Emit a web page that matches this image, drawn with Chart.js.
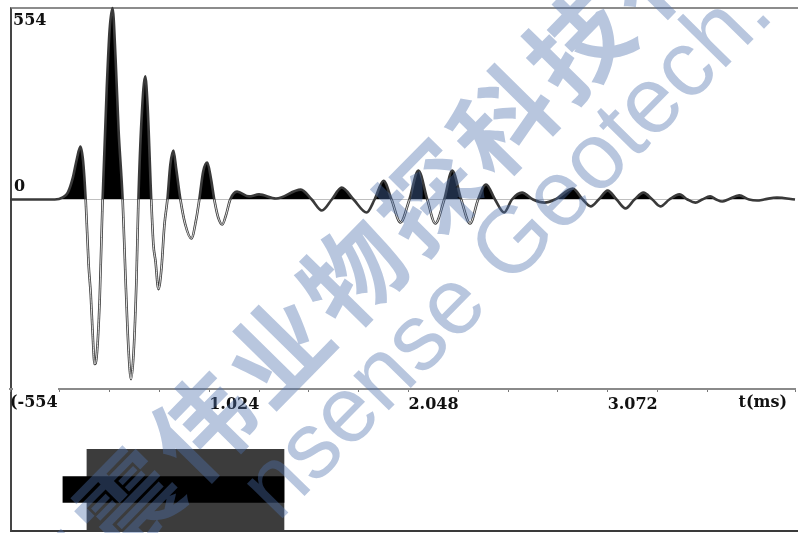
<!DOCTYPE html>
<html>
<head>
<meta charset="utf-8">
<script src="https://cdn.jsdelivr.net/npm/chart.js@4.4.1/dist/chart.umd.min.js"></script>
<style>
html, body { margin: 0; padding: 0; background: #fff; }
#stage { position: relative; width: 798px; height: 533px; overflow: hidden; background: #fff; }
#frame { position: absolute; left: 10px; top: 7px; width: 800px; height: 521px;
         border-left: 2px solid #454545; border-top: 2px solid #8c8c8c; border-bottom: 2px solid #3a3a3a; }
#trace { position: absolute; left: 0; top: 0; }
#gate { position: absolute; left: 0; top: 449px; }
#mark { position: absolute; left: 0; top: 0; pointer-events: none; }
</style>
</head>
<body>
<div id="stage">
    <div id="frame"></div>
    <canvas id="trace" width="798" height="421"></canvas>
    <canvas id="gate" width="798" height="81"></canvas>
    <canvas id="mark" width="798" height="533"></canvas>
</div>
<script>
// waveform samples (time in ms, amplitude)
const timeMs = [
    0, 0.230, 0.271, 0.297, 0.323, 0.343, 0.362, 0.376, 0.389, 0.404,
    0.415, 0.425, 0.435, 0.445, 0.461, 0.476, 0.497, 0.512, 0.527, 0.543,
    0.558, 0.579, 0.594, 0.609, 0.622, 0.635, 0.650, 0.660, 0.676, 0.695,
    0.707, 0.726, 0.737, 0.748, 0.763, 0.778, 0.794, 0.809, 0.824, 0.840,
    0.855, 0.876, 0.901, 0.932, 0.957, 0.973, 0.993, 1.014, 1.034, 1.050,
    1.070, 1.091, 1.111, 1.132, 1.167, 1.229, 1.280, 1.367, 1.495, 1.551,
    1.603, 1.654, 1.705, 1.766, 1.833, 1.874, 1.920, 1.961, 2.007, 2.053,
    2.099, 2.145, 2.186, 2.232, 2.273, 2.319, 2.365, 2.406, 2.447, 2.493,
    2.540, 2.580, 2.632, 2.688, 2.749, 2.801, 2.893, 2.944, 2.985, 3.026,
    3.072, 3.118, 3.164, 3.210, 3.256, 3.302, 3.343, 3.389, 3.441, 3.482,
    3.523, 3.558, 3.599, 3.630, 3.661, 3.692, 3.748, 3.799, 3.840, 3.876,
    3.942, 4.035,
];
const amplitude = [
    0, 0, 6, 20, 64, 117, 155, 111, 0, -190,
    -277, -394, -481, -461, -292, 0, 321, 496, 560, 408,
    204, 0, -233, -437, -525, -452, -233, 0, 233, 360,
    277, 0, -131, -181, -262, -204, -73, 0, 102, 143,
    87, 0, -73, -114, -58, 0, 82, 108, 58, 0,
    -52, -73, -44, 0, 23, 9, 15, 3, 29, 0,
    -32, 0, 35, 0, -38, 0, 55, 0, -67, 0,
    85, 0, -70, 0, 85, 0, -70, 0, 44, 0,
    -38, 0, 20, 0, -9, 0, 32, 0, -20, 0,
    26, 0, -26, 0, 20, 0, -20, 0, 15, 0,
    -9, 0, 9, 0, -6, 0, 12, 0, -3, 0,
    6, 0,
];

const timeRange = [0, 4.035];
const ampRange = [-554, 554];
const tickStepMs = 0.256;
const labelledTicks = [1.024, 2.048, 3.072];
const axisTitle = 't(ms)';

// analysis window bars underneath the trace
const gateStartMs = [0.394, 0.271];
const gateEndMs = [1.403, 1.403];

const serif = 'bold 16px "DejaVu Serif"';

const tracePoints = timeMs.map((t, i) => ({ x: t, y: amplitude[i] }));

const traceLabels = {
    id: 'traceLabels',
    afterDraw(chart) {
        const { ctx, chartArea: a, scales: { y } } = chart;
        ctx.save();
        // the lower limit label sits on a white patch over the axis line
        ctx.fillStyle = '#fff';
        ctx.fillRect(a.left + 3, a.bottom - 3, 45, 7);
        ctx.font = serif;
        ctx.fillStyle = '#111';
        ctx.textAlign = 'left';
        ctx.textBaseline = 'top';
        ctx.fillText(String(ampRange[1]), a.left + 3, y.getPixelForValue(ampRange[1]) + 3);
        ctx.fillText('(' + ampRange[0], a.left, y.getPixelForValue(ampRange[0]) + 6);
        ctx.textBaseline = 'bottom';
        ctx.fillText('0', a.left + 4, y.getPixelForValue(0) - 5);
        ctx.textAlign = 'right';
        ctx.textBaseline = 'top';
        ctx.fillText(axisTitle, a.right - 8, a.bottom + 6);
        ctx.restore();
    },
};

new Chart(document.getElementById('trace'), {
    type: 'line',
    data: {
        datasets: [
            {
                data: tracePoints,
                borderColor: '#3a3a3a',
                borderWidth: 2.6,
                pointRadius: 0,
                cubicInterpolationMode: 'monotone',
                fill: { target: 'origin', above: '#000', below: 'rgba(0,0,0,0)' },
                clip: 6,
                order: 1,
            },
            {
                // light core of the outlined negative lobes
                data: tracePoints,
                borderColor: 'rgba(0,0,0,0)',
                borderWidth: 0.9,
                pointRadius: 0,
                cubicInterpolationMode: 'monotone',
                fill: false,
                clip: 6,
                order: 0,
                segment: {
                    borderColor: (c) => (c.p0.parsed.y <= 0 && c.p1.parsed.y <= 0
                        && Math.min(c.p0.parsed.y, c.p1.parsed.y) < -40) ? '#f2f2f2' : 'rgba(0,0,0,0)',
                },
            },
        ],
    },
    options: {
        responsive: false,
        animation: false,
        layout: { padding: { left: 10, top: 10, right: 0, bottom: 0 } },
        plugins: { legend: { display: false }, tooltip: { enabled: false } },
        scales: {
            x: {
                type: 'linear',
                min: timeRange[0],
                max: timeRange[1],
                border: { display: true, color: '#8a8a8a', width: 2 },
                grid: { drawOnChartArea: false, drawTicks: true, tickLength: 3, color: '#777', tickWidth: 1 },
                ticks: {
                    stepSize: tickStepMs,
                    autoSkip: false,
                    maxRotation: 0,
                    align: 'start',
                    padding: 3,
                    color: '#111',
                    font: { family: '"DejaVu Serif"', weight: 'bold', size: 16 },
                    callback: (v) => (labelledTicks.some((m) => Math.abs(m - v) < 1e-6) ? v.toFixed(3) : ''),
                },
                afterFit: (s) => { s.height = 32; },
            },
            y: { type: 'linear', min: ampRange[0], max: ampRange[1], display: false },
        },
    },
    plugins: [traceLabels],
});

new Chart(document.getElementById('gate'), {
    type: 'bar',
    data: {
        labels: ['gate'],
        datasets: [
            { data: [[gateStartMs[0], gateEndMs[0]]], backgroundColor: '#3c3c3c', barThickness: 81, grouped: false, order: 1 },
            { data: [[gateStartMs[1], gateEndMs[1]]], backgroundColor: '#000', barThickness: 26, grouped: false, order: 0 },
        ],
    },
    options: {
        indexAxis: 'y',
        responsive: false,
        animation: false,
        layout: { padding: { left: 10, top: 0, right: 0, bottom: 0 } },
        plugins: { legend: { display: false }, tooltip: { enabled: false } },
        scales: {
            x: { type: 'linear', min: timeRange[0], max: timeRange[1], display: false },
            y: { display: false },
        },
    },
});

function drawWatermark() {
    const c = document.getElementById('mark').getContext('2d');
    const ang = 45.5 * Math.PI / 180;
    const dx = Math.cos(ang);
    const dy = -Math.sin(ang);
    c.fillStyle = 'rgba(77,112,172,0.4)';
    c.font = 'bold 100px "Noto Sans CJK SC"';
    c.textAlign = 'center';
    c.textBaseline = 'middle';
    const cn = '中震伟业物探科技有限';
    for (let i = 0; i < cn.length; i++) {
        const d = (i - 3) * 107;
        c.save();
        c.translate(278 + d * dx, 350 + d * dy);
        c.rotate(-ang);
        c.fillText(cn[i], 0, 0);
        c.restore();
    }
    c.font = '94px "Liberation Sans"';
    c.textAlign = 'left';
    const en = 'nsense Geotech.';
    const off = c.measureText('nsense ').width + c.measureText('G').width / 2;
    c.save();
    c.translate(516 - off * dx, 244 - off * dy);
    c.rotate(-ang);
    c.fillText(en, 0, 0);
    c.restore();
}

drawWatermark();
</script>
</body>
</html>
